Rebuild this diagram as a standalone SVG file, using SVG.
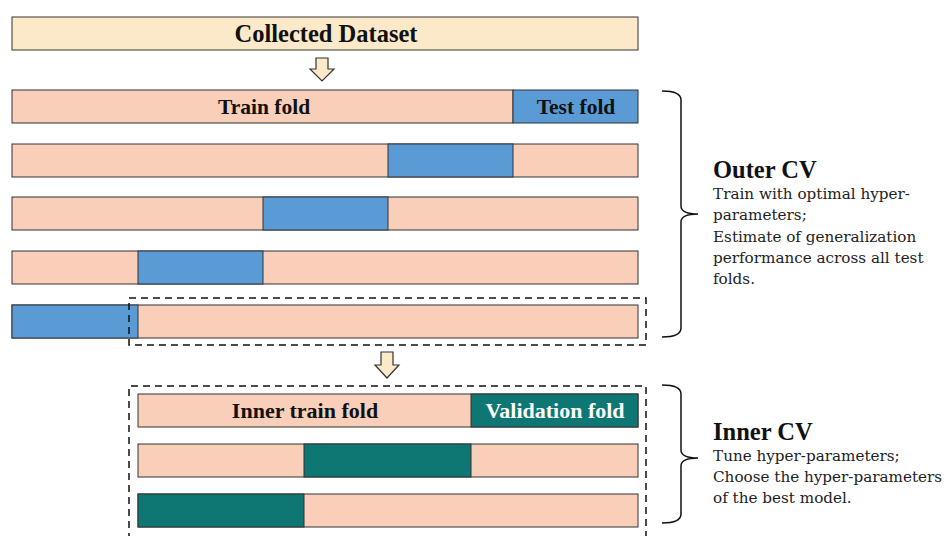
<svg xmlns="http://www.w3.org/2000/svg" width="946" height="536" viewBox="0 0 946 536">
<style>
.tr{fill:#f9cfba;stroke:#333;stroke-width:1}
.ts{fill:#5b9bd5;stroke:#333;stroke-width:1}
.va{fill:#0e7774;stroke:#333;stroke-width:1}
.ds{fill:#fbe9c9;stroke:#333;stroke-width:1}
.ar{fill:#fbe9c9;stroke:#333;stroke-width:1.2}
.dash{fill:none;stroke:#111;stroke-width:1.5;stroke-dasharray:7,5}
.br{fill:none;stroke:#111;stroke-width:1.5}
.b{font-family:"Liberation Serif","DejaVu Serif",serif;font-weight:bold;fill:#111}
.t{font-family:"DejaVu Serif","Liberation Serif",serif;font-size:15.2px;fill:#222}
</style>
<rect width="946" height="536" fill="#fff"/>
<g id="dataset">
<rect class="ds" x="12" y="17" width="626" height="33"/>
<text class="b" x="326" y="42" font-size="24.5" text-anchor="middle">Collected Dataset</text>
</g>
<g id="connectors">
<path class="ar" d="M316,58 H328 V69 H334 L322,81 L310,69 H316 Z"/>
<path class="ar" d="M381,352 H393 V365 H399 L387,378 L375,365 H381 Z"/>
<path class="br" d="M662,91 Q681,91 681,100 V206 Q681,214 698,214 Q681,214 681,222 V328 Q681,337 662,337"/>
<path class="br" d="M662,385 Q681,385 681,394 V450 Q681,458 698,458 Q681,458 681,466 V514 Q681,523 662,523"/>
</g>
<g id="outer-row1">
<rect class="tr" x="12" y="90" width="501" height="33"/>
<rect class="ts" x="513" y="90" width="125" height="33"/>
<text class="b" x="264" y="114" font-size="21.5" text-anchor="middle">Train fold</text>
<text class="b" x="576" y="114" font-size="21.5" text-anchor="middle">Test fold</text>
</g>
<g id="outer-row2">
<rect class="tr" x="12" y="144" width="626" height="33"/>
<rect class="ts" x="388" y="144" width="125" height="33"/>
</g>
<g id="outer-row3">
<rect class="tr" x="12" y="197" width="626" height="33"/>
<rect class="ts" x="263" y="197" width="125" height="33"/>
</g>
<g id="outer-row4">
<rect class="tr" x="12" y="251" width="626" height="33"/>
<rect class="ts" x="138" y="251" width="125" height="33"/>
</g>
<g id="outer-row5">
<rect class="tr" x="12" y="305" width="626" height="33"/>
<rect class="ts" x="12" y="305" width="126" height="33"/>
<rect class="dash" x="129" y="298" width="517" height="47"/>
</g>
<g id="inner-box">
<path class="dash" d="M129,540 V386 H646 V540"/>
</g>
<g id="inner-row1">
<rect class="tr" x="138" y="394" width="500" height="33"/>
<rect class="va" x="471" y="394" width="167" height="33"/>
<text class="b" x="305" y="418" font-size="22" text-anchor="middle">Inner train fold</text>
<text class="b" x="555" y="418" font-size="22" text-anchor="middle" style="fill:#fff">Validation fold</text>
</g>
<g id="inner-row2">
<rect class="tr" x="138" y="444" width="500" height="33"/>
<rect class="va" x="304" y="444" width="167" height="33"/>
</g>
<g id="inner-row3">
<rect class="tr" x="138" y="494" width="500" height="33"/>
<rect class="va" x="138" y="494" width="166" height="33"/>
</g>
<g id="outer-label">
<text class="b" x="713" y="178" font-size="24.5">Outer CV</text>
<text class="t" x="713" y="199">Train with optimal hyper-</text>
<text class="t" x="713" y="220">parameters;</text>
<text class="t" x="713" y="242">Estimate of generalization</text>
<text class="t" x="713" y="263">performance across all test</text>
<text class="t" x="713" y="284">folds.</text>
</g>
<g id="inner-label">
<text class="b" x="713" y="440" font-size="24.5">Inner CV</text>
<text class="t" x="713" y="461">Tune hyper-parameters;</text>
<text class="t" x="713" y="482">Choose the hyper-parameters</text>
<text class="t" x="713" y="503">of the best model.</text>
</g>
</svg>
